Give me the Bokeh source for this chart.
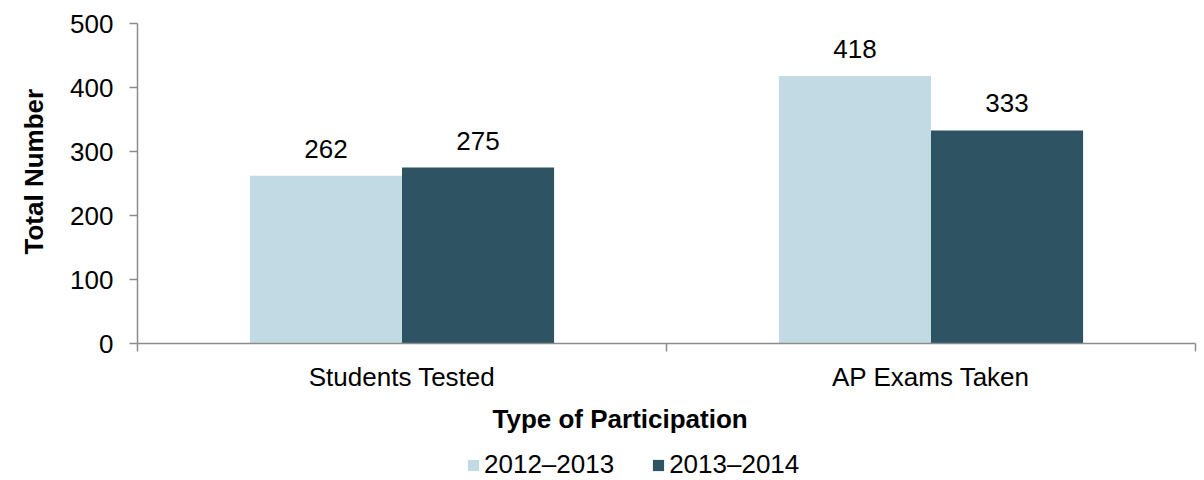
from bokeh.plotting import figure
from bokeh.layouts import column
from bokeh.models import (Range1d, FixedTicker, ColumnDataSource,
                          LabelSet, Legend, LegendItem, Title)
from bokeh.core.properties import value
from bokeh.embed import file_html
from bokeh.resources import INLINE

categories = ["Students Tested", "AP Exams Taken"]
series_names = ["2012–2013", "2013–2014"]
values_2012_2013 = [262, 418]
values_2013_2014 = [275, 333]
y_ticks = [0, 100, 200, 300, 400, 500]
colors = ["#C2DAE3", "#2E5464"]

FONT = "Liberation Sans"
AXIS_COLOR = "#8C8C8C"

n = len(categories)
p = figure(width=1204, height=440, x_range=Range1d(0, n), y_range=Range1d(0, y_ticks[-1]),
           output_backend="svg", toolbar_location=None,
           min_border_left=137, min_border_right=9, min_border_top=23, min_border_bottom=96)
p.outline_line_color = None
p.xgrid.visible = False
p.ygrid.visible = False

bw = 0.2875
off = bw / 2
x_a = [i + 0.5 - off for i in range(n)]
x_b = [i + 0.5 + off for i in range(n)]
src_a = ColumnDataSource(dict(x=x_a, top=values_2012_2013, text=[str(v) for v in values_2012_2013]))
src_b = ColumnDataSource(dict(x=x_b, top=values_2013_2014, text=[str(v) for v in values_2013_2014]))

r1 = p.vbar(x="x", top="top", width=bw, source=src_a, fill_color=colors[0], line_color=None)
r2 = p.vbar(x="x", top="top", width=bw, source=src_b, fill_color=colors[1], line_color=None)

for src in (src_a, src_b):
    p.add_layout(LabelSet(x="x", y="top", text="text", source=src, y_offset=18,
                          text_align="center", text_baseline="bottom",
                          text_font_size=value("26px"), text_font=value(FONT),
                          text_color=value("#000000")))

# x axis
xax = p.xaxis[0]
xax.ticker = FixedTicker(ticks=[i + 0.5 for i in range(n)], minor_ticks=list(range(n + 1)))
xax.major_label_overrides = {i + 0.5: c for i, c in enumerate(categories)}
xax.major_tick_line_color = None
xax.major_tick_out = 0
xax.major_tick_in = 0
xax.minor_tick_out = 8
xax.minor_tick_in = 0
xax.minor_tick_line_color = AXIS_COLOR
xax.minor_tick_line_width = 1.5
xax.axis_line_color = AXIS_COLOR
xax.axis_line_width = 1.5
xax.major_label_standoff = 10
xax.major_label_text_font_size = "26px"
xax.major_label_text_font = FONT
xax.major_label_text_color = "#000000"

# y axis
yax = p.yaxis[0]
yax.ticker = FixedTicker(ticks=y_ticks)
yax.major_tick_out = 8
yax.major_tick_in = 0
yax.minor_tick_line_color = None
yax.major_tick_line_color = AXIS_COLOR
yax.major_tick_line_width = 1.5
yax.axis_line_color = AXIS_COLOR
yax.axis_line_width = 1.5
yax.major_label_standoff = 16
yax.major_label_text_font_size = "26px"
yax.major_label_text_font = FONT
yax.major_label_text_color = "#000000"

ytitle = Title(text="Total Number", align="left", offset=89, vertical_align="top",
               text_font_size="26px", text_font=FONT, text_font_style="bold",
               text_color="#000000", standoff=33)
p.add_layout(ytitle, "left")

xtitle = Title(text="Type of Participation", align="left", offset=355,
               text_font_size="26px", text_font=FONT, text_font_style="bold",
               text_color="#000000", standoff=14)
p.add_layout(xtitle, "below")

# legend strip
p2 = figure(width=1204, height=40, x_range=Range1d(0, 1), y_range=Range1d(0, 1),
            output_backend="svg", toolbar_location=None, x_axis_type=None, y_axis_type=None,
            min_border=0)
p2.outline_line_color = None
p2.grid.visible = False
d1 = p2.vbar(x=[0.5], top=[0], width=0, fill_color=colors[0], line_color=None)
d2 = p2.vbar(x=[0.5], top=[0], width=0, fill_color=colors[1], line_color=None)
legend = Legend(items=[LegendItem(label=series_names[0], renderers=[d1]),
                       LegendItem(label=series_names[1], renderers=[d2])],
                orientation="horizontal", location=(329, 0),
                glyph_width=14, glyph_height=14, label_standoff=4, spacing=37,
                padding=0, margin=0, border_line_color=None, background_fill_alpha=0,
                label_text_font_size="26px", label_text_font=FONT, label_text_color="#000000",
                label_height=28)
p2.add_layout(legend)

layout = column(p, p2, spacing=0)
open("out.html", "w").write(file_html(layout, INLINE))
